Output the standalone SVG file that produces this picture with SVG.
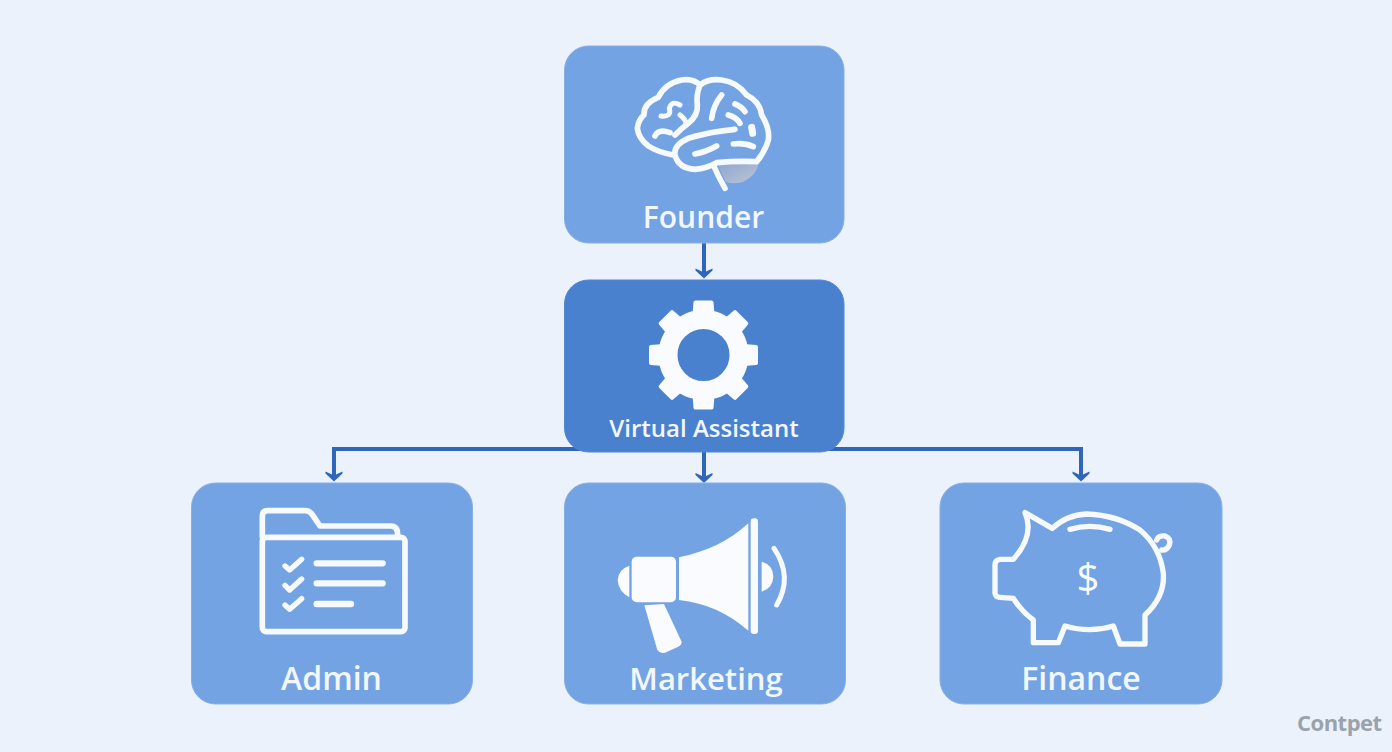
<svg xmlns="http://www.w3.org/2000/svg" width="1392" height="752" viewBox="0 0 1392 752">
<style>
.box{fill:#74a3e3;stroke:#86afe8;stroke-width:1}
.main{fill:#4a81cf;stroke:#5288d4;stroke-width:1}
.lbl{font-family:"Open Sans","Noto Sans","Liberation Sans",sans-serif;font-weight:600;fill:#f2f7fd;text-anchor:middle}
.ic{fill:none;stroke:#f7fafd;stroke-linecap:round;stroke-linejoin:round}
.sol{fill:#f9fbfe}
.conn{fill:none;stroke:#2f66b9;stroke-width:4}
</style>
<defs>
<linearGradient id="shade" x1="0" y1="0" x2="1" y2="1"><stop offset="0" stop-color="#8ea6cf"/><stop offset="1" stop-color="#bcc5d4"/></linearGradient>
<path id="ah" d="M-8.500,-10 L-2,-7 H2 L8.500,-10 L8.500,-8 L0,0 L-8.500,-8 Z" fill="#2f66b9"/>
<path id="tooth" d="M-11,-40 L-10,-53 Q-9.700,-54.500 -8,-54.500 H8 Q9.700,-54.500 10,-53 L11,-40 Z" class="sol"/>
</defs>
<rect width="1392" height="752" fill="#ebf2fb"/>
<g id="connectors">
<path class="conn" d="M704,243 V274"/>
<path class="conn" d="M334,476 V449 H1081 V476"/>
<path class="conn" d="M704,449 V478"/>
<use href="#ah" x="704" y="278.500"/>
<use href="#ah" x="334" y="481.500"/>
<use href="#ah" x="704" y="483"/>
<use href="#ah" x="1081" y="481.500"/>
</g>
<g id="founder">
<rect class="box" x="564.500" y="46" width="279.500" height="197" rx="24"/>
<g transform="translate(560,40) scale(.33333)">
<path d="M470,368 H597 Q590,405 550,425 Q520,435 497,425 Z" fill="url(#shade)"/>
<g class="ic" stroke-width="17">
<path d="M340,345 Q290,335 265,318 Q235,295 232,265 Q235,240 252,225 Q250,190 295,172 Q315,130 365,120 Q400,115 420,135 Q445,115 485,120 Q530,125 560,165 Q600,185 605,225 Q630,265 625,300 Q615,335 590,365 Q530,362 470,368 Q440,385 405,388 Q355,385 345,345 Q340,315 385,295 Q450,275 525,268"/>
<path d="M420,135 Q408,165 412,195 Q415,225 385,250 Q365,265 345,285"/>
<path d="M460,375 Q475,410 495,445"/>
<path d="M285,288 Q295,265 330,278"/>
<path d="M303,228 Q335,232 328,205 Q335,180 360,195 M360,225 Q380,240 378,255" stroke-width="15"/>
<path d="M455,235 Q460,195 485,165"/>
<path d="M525,192 Q545,200 555,215"/>
<path d="M505,225 Q530,232 540,250"/>
<path d="M575,262 L578,280" stroke-width="21"/>
<path d="M520,312 Q555,308 580,320"/>
<path d="M405,342 Q440,335 470,318"/>
</g>
</g>
<text class="lbl" x="703.500" y="228" font-size="30">Founder</text>
</g>
<g id="virtual-assistant">
<rect class="main" x="564.500" y="280" width="279.500" height="172" rx="24"/>
<g transform="translate(703.500,355)">
<circle r="35.500" fill="none" stroke="#f9fbfe" stroke-width="19"/>
<use href="#tooth"/>
<use href="#tooth" transform="rotate(45)"/>
<use href="#tooth" transform="rotate(90)"/>
<use href="#tooth" transform="rotate(135)"/>
<use href="#tooth" transform="rotate(180)"/>
<use href="#tooth" transform="rotate(225)"/>
<use href="#tooth" transform="rotate(270)"/>
<use href="#tooth" transform="rotate(315)"/>
</g>
<text class="lbl" x="704" y="437" font-size="24">Virtual Assistant</text>
</g>
<g id="admin">
<rect class="box" x="191.500" y="483" width="281" height="221" rx="24"/>
<g transform="translate(185,440) scale(.33333)">
<g class="ic" stroke-width="17">
<path d="M232,290 V228 Q232,212 248,212 H362 Q374,212 382,224 L405,258 H618 Q638,258 638,285"/>
<rect x="232" y="292" width="428" height="283" rx="12"/>
<path d="M395,370 H593 M395,430 H593 M395,492 H498" stroke-width="19"/>
<path d="M300,378 L314,390 L350,358 M300,436 L314,450 L350,417 M300,495 L314,508 L350,476" stroke-width="16"/>
</g>
</g>
<text class="lbl" x="331.500" y="690" font-size="32">Admin</text>
</g>
<g id="marketing">
<rect class="box" x="564.500" y="483" width="281" height="221" rx="24"/>
<g transform="translate(600,500) scale(.33333)">
<path class="sol" d="M88,197 Q55,208 53,240 Q55,275 88,292 Z"/>
<rect class="sol" x="95" y="170" width="133" height="137" rx="15"/>
<path class="sol" d="M237,172 C320,155 385,125 445,70 V392 C385,340 320,310 237,300 Z"/>
<rect class="sol" x="452" y="55" width="22" height="347" rx="10"/>
<path class="sol" d="M485,185 Q520,195 520,230 Q518,265 485,275 Z"/>
<path class="ic" stroke-width="15" d="M522,145 Q580,230 530,315"/>
<path class="sol" d="M133,316 L192,312 L245,425 Q245,435 235,440 L195,458 Q180,462 172,450 Z"/>
</g>
<text class="lbl" x="706" y="690" font-size="31">Marketing</text>
</g>
<g id="finance">
<rect class="box" x="940" y="483" width="282" height="221" rx="24"/>
<g transform="translate(980,500) scale(.33333)">
<g class="ic" stroke-width="16">
<path d="M217,85 L135,38 Q165,105 100,178 L60,178 Q45,180 45,195 V280 Q47,292 60,292 L100,295 Q125,335 160,360 V428 H235 L255,378 Q330,400 400,378 L420,432 H495 V345 Q555,290 550,220 Q540,140 480,90 Q410,45 320,42 Q260,45 217,85"/>
<path d="M530,120 Q535,105 555,108 Q575,115 568,135 Q560,152 545,150"/>
<path d="M270,88 Q330,70 390,88"/>
</g>
</g>
<text x="1088" y="592" font-family="Open Sans,Noto Sans,sans-serif" font-size="40" font-weight="500" fill="#f7fafd" text-anchor="middle">$</text>
<text class="lbl" x="1081" y="690" font-size="32">Finance</text>
</g>
<text x="1297" y="731" font-family="Open Sans,Liberation Sans,sans-serif" font-weight="700" font-size="22" letter-spacing="-.5" fill="#9ba2ab">Contpet</text>
</svg>
